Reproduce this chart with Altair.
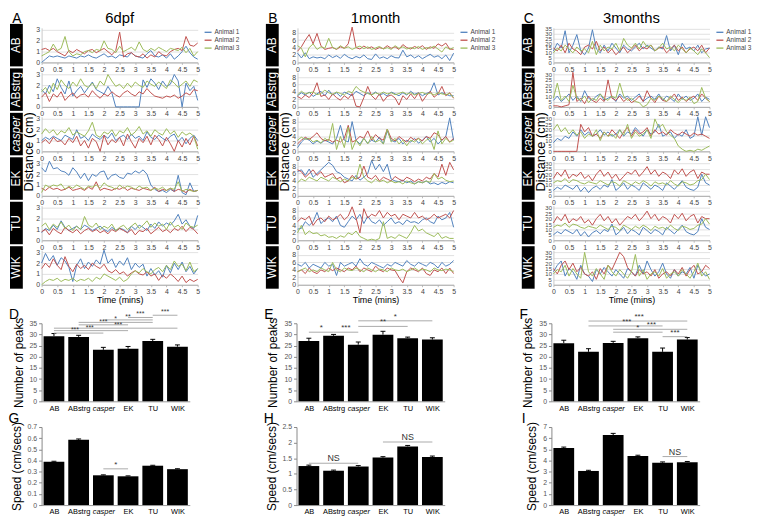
import json
import altair as alt
import pandas as pd

FONT = "Liberation Sans"
ANIMALS = ["Animal 1", "Animal 2", "Animal 3"]
ANIMAL_COLORS = ["#4F81BD", "#C0504D", "#9BBB59"]
STRAINS = ["AB", "ABstrg", "casper", "EK", "TU", "WIK"]
TIME = [i * 0.125 for i in range(41)]          # minutes, 7.5 s sampling
X_TICKS = [0, 0.5, 1, 1.5, 2, 2.5, 3, 3.5, 4, 4.5, 5]

# ---------------- 6dpf distance traces (cm) ----------------
D6_AB = [
    [0.0, 0.3, 0.6, 0.5, 0.6, 0.5, 0.4, 0.6, 0.5, 0.4, 0.6, 0.5, 0.7, 0.5, 0.4, 0.6, 0.8, 0.5, 0.6, 0.4, 0.7, 0.6, 0.5, 0.9, 0.6, 0.5, 0.4, 0.8, 1.1, 0.6, 0.5, 0.7, 0.4, 0.8, 0.3, 0.6, 1.0, 1.5, 0.9, 0.5, 0.3],
    [1.2, 1.3, 1.1, 1.3, 1.0, 0.8, 0.6, 1.1, 0.9, 1.2, 1.0, 0.8, 1.1, 1.2, 0.9, 1.1, 1.3, 1.0, 0.7, 1.1, 2.8, 0.5, 0.8, 0.9, 0.6, 0.5, 0.8, 0.4, 0.7, 0.5, 1.0, 0.7, 0.6, 1.0, 1.2, 1.3, 1.1, 2.4, 1.6, 1.5, 1.8],
    [0.6, 0.8, 1.0, 1.7, 1.1, 1.3, 2.4, 1.0, 0.6, 0.8, 0.7, 1.0, 1.1, 0.9, 1.2, 1.1, 2.0, 1.3, 1.2, 0.9, 1.5, 1.0, 1.2, 1.4, 1.1, 1.9, 1.2, 1.0, 1.3, 1.1, 1.4, 1.2, 1.0, 1.3, 1.2, 1.1, 1.4, 0.9, 1.3, 0.6, 1.0],
]
D6_ABSTRG = [
    [1.6, 1.2, 2.0, 1.4, 2.6, 1.8, 1.2, 2.4, 1.0, 1.5, 1.9, 1.3, 1.8, 2.3, 1.6, 1.4, 1.2, 1.9, 1.3, 0.0, 0.0, 0.0, 0.0, 0.0, 0.0, 0.0, 2.5, 1.8, 2.6, 2.2, 1.6, 2.4, 1.9, 2.1, 3.0, 2.4, 0.0, 2.2, 1.5, 1.9, 0.6],
    [0.9, 1.3, 0.5, 1.2, 0.9, 1.4, 0.6, 1.0, 1.3, 0.8, 1.1, 1.2, 0.9, 1.5, 1.1, 0.8, 1.2, 1.0, 1.4, 1.1, 0.9, 1.3, 1.5, 1.2, 1.0, 1.4, 1.2, 1.7, 1.3, 1.0, 0.9, 0.8, 1.0, 0.9, 1.1, 0.8, 1.0, 1.3, 1.1, 1.6, 1.5],
    [1.4, 1.8, 1.2, 2.2, 1.6, 2.5, 2.0, 1.7, 2.3, 1.9, 2.6, 2.0, 1.8, 2.2, 1.7, 2.4, 2.0, 3.0, 2.4, 1.9, 2.1, 1.7, 2.2, 1.8, 2.3, 2.0, 1.8, 2.4, 2.1, 1.9, 2.3, 2.0, 1.7, 2.5, 2.2, 1.8, 2.1, 2.4, 1.9, 2.5, 2.3],
]
D6_CASPER = [
    [1.0, 1.3, 1.1, 1.4, 1.2, 1.0, 1.5, 1.3, 1.1, 2.0, 1.2, 1.4, 1.0, 1.6, 1.3, 1.1, 1.5, 1.2, 1.7, 1.0, 1.3, 1.5, 1.1, 1.6, 1.2, 1.4, 1.0, 1.8, 1.3, 1.1, 1.5, 1.2, 1.0, 1.4, 1.6, 0.9, 1.3, 0.7, 1.2, 1.5, 1.0],
    [0.8, 1.1, 0.7, 1.3, 0.9, 1.0, 0.6, 1.2, 0.8, 1.4, 0.5, 1.0, 0.3, 1.2, 0.9, 0.0, 1.5, 0.6, 1.1, 0.8, 1.3, 0.5, 1.6, 0.9, 0.3, 1.2, 0.8, 1.4, 0.6, 1.5, 1.1, 0.5, 1.3, 0.7, 0.0, 1.0, 0.4, 1.2, 0.6, 1.4, 0.5],
    [1.6, 2.1, 1.7, 2.0, 1.5, 1.9, 1.7, 2.2, 1.5, 1.8, 1.6, 1.4, 1.9, 2.7, 1.5, 1.3, 1.8, 1.6, 2.0, 1.4, 1.9, 1.7, 2.2, 1.5, 1.8, 2.3, 1.6, 1.9, 1.4, 2.0, 1.7, 1.5, 2.1, 1.6, 1.9, 1.3, 1.8, 1.5, 1.7, 1.4, 0.2],
]
D6_EK = [
    [2.6, 2.2, 3.2, 2.5, 2.6, 2.3, 2.2, 1.9, 2.6, 2.2, 1.6, 2.1, 1.4, 2.0, 1.8, 2.2, 2.3, 1.5, 1.9, 2.0, 1.7, 1.6, 2.1, 2.0, 2.3, 2.1, 2.4, 2.0, 1.0, 0.6, 0.4, 0.5, 0.3, 0.6, 0.4, 1.9, 0.3, 0.1, 1.2, 0.4, 0.5],
    [0.7, 0.5, 0.8, 0.6, 0.7, 0.5, 0.6, 0.8, 0.5, 0.6, 0.7, 0.5, 0.8, 0.6, 1.3, 0.5, 0.7, 0.6, 0.5, 0.7, 0.6, 0.8, 0.5, 0.7, 0.6, 0.5, 0.7, 0.6, 0.5, 0.8, 0.4, 0.6, 0.5, 0.7, 0.4, 0.6, 0.5, 0.3, 0.6, 0.4, 0.5],
    [0.3, 1.0, 0.8, 1.0, 0.9, 1.1, 0.6, 0.9, 0.7, 1.0, 0.8, 0.6, 0.9, 0.8, 1.0, 0.7, 1.2, 0.9, 0.8, 0.6, 1.0, 0.7, 0.9, 0.8, 0.6, 0.9, 0.7, 0.8, 0.5, 0.7, 0.6, 0.8, 0.5, 0.7, 0.6, 1.3, 0.4, 0.6, 0.5, 0.4, 0.5],
]
D6_TU = [
    [0.7, 1.1, 0.9, 1.4, 1.0, 1.8, 1.2, 0.9, 1.1, 1.3, 1.0, 1.4, 1.2, 0.9, 1.1, 1.3, 1.0, 0.8, 1.2, 0.9, 1.1, 1.0, 0.7, 1.3, 1.0, 1.4, 1.2, 0.9, 1.5, 1.1, 1.7, 1.3, 1.6, 1.4, 1.8, 2.4, 1.5, 1.9, 1.3, 1.1, 2.3],
    [0.8, 1.0, 0.5, 1.1, 0.8, 0.6, 1.2, 0.9, 0.7, 1.0, 0.6, 0.9, 1.1, 0.8, 1.0, 0.7, 0.9, 0.6, 1.0, 0.8, 1.1, 0.9, 0.7, 1.0, 0.5, 0.9, 0.8, 1.1, 0.6, 0.9, 1.2, 0.8, 1.0, 0.7, 1.1, 0.9, 1.3, 0.8, 1.2, 1.0, 0.6],
    [1.3, 1.6, 1.0, 1.5, 1.2, 1.7, 1.1, 1.4, 0.9, 1.3, 1.0, 2.2, 1.4, 1.2, 1.6, 1.0, 1.3, 1.1, 1.5, 0.9, 1.2, 1.4, 1.0, 1.3, 1.6, 1.1, 1.4, 1.8, 1.2, 1.6, 1.3, 1.5, 1.0, 1.7, 1.2, 1.4, 1.0, 1.6, 1.3, 1.2, 1.4],
]
D6_WIK = [
    [2.0, 2.9, 2.2, 2.7, 1.8, 2.5, 2.2, 1.6, 0.3, 1.8, 2.4, 1.5, 2.1, 1.7, 2.3, 1.9, 3.2, 2.0, 2.4, 1.6, 2.2, 1.8, 2.5, 1.4, 2.0, 1.6, 1.9, 0.8, 1.5, 0.9, 1.3, 0.7, 1.8, 1.1, 2.0, 1.4, 2.1, 1.2, 1.7, 1.0, 1.5],
    [1.5, 2.0, 1.6, 2.4, 1.8, 1.4, 2.6, 1.7, 1.2, 1.9, 1.5, 1.8, 1.4, 2.0, 1.7, 1.5, 1.9, 1.3, 1.1, 1.4, 1.0, 1.2, 0.8, 1.1, 1.3, 1.0, 0.9, 1.2, 0.8, 1.0, 0.4, 0.9, 0.6, 1.0, 0.7, 0.3, 0.8, 0.2, 0.5, 0.3, 0.5],
    [0.0, 0.3, 0.5, 0.4, 0.6, 0.3, 0.5, 0.4, 0.6, 0.3, 0.5, 0.4, 0.6, 0.3, 0.7, 0.5, 1.0, 0.8, 0.6, 0.4, 0.7, 0.3, 0.5, 1.0, 1.3, 1.1, 1.5, 1.2, 1.0, 1.4, 1.6, 1.2, 1.8, 1.4, 2.2, 1.7, 1.9, 1.3, 2.1, 1.2, 1.5],
]

# ---------------- 1month distance traces (cm) ----------------
M1_AB = [
    [2.5, 1.2, 2.6, 1.0, 1.5, 1.2, 1.4, 1.0, 2.0, 1.3, 1.8, 1.1, 2.2, 1.4, 1.0, 1.6, 1.2, 2.0, 1.0, 0.8, 2.3, 1.1, 1.5, 1.0, 1.8, 1.3, 1.2, 3.3, 1.5, 2.0, 1.2, 1.8, 1.0, 1.6, 2.2, 1.4, 1.8, 1.0, 2.0, 0.5, 2.5],
    [3.0, 4.2, 6.0, 7.5, 5.0, 7.8, 4.5, 3.5, 3.8, 4.0, 3.5, 4.2, 3.8, 5.0, 9.5, 4.0, 3.6, 4.4, 3.8, 4.2, 3.5, 4.0, 3.7, 4.5, 3.8, 4.2, 3.5, 4.8, 4.0, 3.6, 4.3, 3.8, 4.5, 3.5, 4.2, 3.8, 5.0, 4.4, 5.2, 3.6, 3.5],
    [4.5, 3.8, 1.5, 4.0, 5.0, 3.5, 4.2, 3.8, 6.5, 4.0, 3.6, 4.5, 3.8, 4.2, 3.5, 4.0, 4.4, 3.7, 4.2, 3.5, 3.9, 4.3, 3.6, 4.0, 3.5, 4.5, 3.8, 4.2, 3.6, 4.0, 3.7, 4.3, 3.5, 4.0, 3.8, 4.4, 3.6, 2.8, 4.2, 3.5, 4.0],
]
M1_ABSTRG = [
    [3.0, 3.8, 3.2, 4.0, 2.8, 3.5, 4.2, 3.0, 4.5, 3.2, 3.8, 2.8, 4.0, 3.5, 3.0, 4.2, 3.6, 3.0, 3.8, 3.3, 4.0, 3.2, 3.6, 2.9, 4.0, 3.5, 3.0, 3.8, 3.2, 4.2, 3.4, 3.8, 3.0, 3.6, 4.0, 6.5, 3.2, 3.8, 3.4, 3.0, 3.0],
    [2.8, 2.2, 3.2, 2.5, 3.8, 6.5, 2.8, 3.2, 2.0, 3.5, 2.5, 1.8, 3.0, 2.2, 3.6, 0.2, 0.0, 2.5, 5.5, 3.0, 2.0, 3.5, 1.5, 2.8, 3.2, 2.4, 0.5, 3.0, 2.0, 3.5, 2.2, 3.8, 1.5, 3.0, 4.2, 2.6, 3.5, 5.5, 3.0, 3.8, 2.3],
    [3.2, 4.2, 3.5, 3.8, 4.0, 3.3, 3.6, 4.5, 3.8, 3.4, 4.0, 3.6, 3.2, 4.2, 3.8, 5.5, 4.5, 4.0, 3.6, 3.2, 3.8, 3.4, 4.0, 3.5, 3.8, 3.3, 3.6, 4.0, 3.4, 3.8, 3.2, 3.6, 3.9, 3.4, 3.7, 3.2, 3.8, 3.5, 3.3, 3.6, 2.5],
]
M1_CASPER = [
    [1.0, 2.5, 3.5, 3.0, 2.0, 2.8, 2.2, 3.0, 2.5, 2.0, 3.5, 7.0, 3.0, 2.5, 8.0, 3.0, 2.0, 3.5, 2.2, 3.0, 2.5, 3.8, 2.0, 5.5, 3.0, 2.5, 3.5, 2.0, 3.0, 2.5, 3.5, 2.2, 3.0, 4.0, 2.5, 3.5, 2.0, 3.0, 4.0, 9.0, 3.0],
    [2.0, 3.0, 3.8, 3.2, 4.0, 5.0, 3.5, 2.8, 3.2, 2.5, 3.0, 2.5, 3.5, 7.0, 2.5, 3.0, 4.0, 3.5, 5.5, 3.0, 4.5, 3.5, 3.0, 6.0, 3.5, 2.8, 4.0, 3.2, 2.5, 3.8, 3.0, 3.5, 2.8, 4.0, 3.5, 5.0, 4.5, 3.0, 4.0, 2.5, 3.5],
    [3.0, 3.8, 3.2, 3.5, 2.5, 3.0, 2.2, 3.5, 2.8, 7.5, 0.5, 4.0, 1.0, 6.5, 0.5, 3.0, 1.5, 3.5, 2.0, 4.0, 2.5, 3.0, 2.0, 6.0, 2.5, 3.5, 2.0, 3.0, 1.5, 3.0, 2.5, 3.5, 2.0, 3.0, 3.5, 0.5, 5.5, 2.0, 3.5, 2.5, 3.0],
]
M1_EK = [
    [6.5, 7.0, 5.5, 7.2, 5.0, 6.0, 7.0, 8.0, 9.0, 8.2, 6.5, 6.0, 5.0, 4.5, 4.0, 5.5, 4.2, 5.0, 6.0, 9.5, 7.0, 8.5, 6.5, 8.5, 4.5, 4.0, 3.8, 4.2, 3.5, 4.0, 3.2, 3.8, 3.5, 4.0, 3.2, 3.5, 3.0, 3.6, 3.2, 3.8, 3.5],
    [7.0, 6.5, 5.0, 6.0, 7.0, 5.5, 6.5, 5.0, 5.5, 6.0, 4.5, 5.0, 3.5, 4.0, 5.5, 4.5, 5.0, 8.0, 5.0, 4.5, 5.5, 4.0, 5.0, 4.5, 4.0, 5.2, 4.5, 4.0, 5.0, 4.5, 3.8, 4.5, 4.0, 5.0, 4.5, 6.0, 5.0, 8.5, 5.5, 9.0, 7.0],
    [3.5, 4.5, 4.0, 5.0, 4.5, 4.0, 5.0, 4.5, 4.0, 5.0, 4.5, 3.8, 4.5, 4.0, 5.0, 4.5, 8.5, 5.0, 4.0, 3.5, 4.5, 3.8, 4.2, 3.5, 4.0, 3.5, 3.8, 3.2, 4.0, 3.5, 3.2, 3.8, 3.5, 4.0, 3.6, 6.0, 4.5, 5.0, 4.2, 3.8, 4.0],
]
M1_TU = [
    [3.0, 3.2, 5.0, 4.0, 5.0, 7.5, 4.5, 5.5, 6.0, 5.0, 6.5, 4.0, 3.5, 5.0, 6.5, 5.5, 7.0, 4.5, 6.5, 5.0, 4.5, 5.5, 4.0, 5.0, 6.0, 4.5, 5.0, 4.2, 5.5, 4.8, 5.0, 4.5, 5.5, 6.0, 5.0, 4.5, 6.5, 5.5, 6.0, 7.5, 3.5],
    [5.0, 6.0, 5.5, 6.5, 4.0, 5.5, 6.0, 5.0, 6.5, 5.5, 6.0, 7.0, 5.5, 6.5, 9.0, 6.0, 2.0, 8.5, 6.0, 7.0, 6.5, 8.0, 6.0, 7.5, 6.5, 7.0, 5.5, 7.0, 6.5, 6.0, 7.5, 6.0, 6.5, 5.5, 6.0, 7.0, 6.0, 6.5, 7.0, 6.0, 8.0],
    [2.0, 4.0, 1.5, 2.5, 1.8, 2.0, 1.2, 1.5, 0.8, 1.0, 0.5, 1.2, 0.8, 2.0, 1.5, 2.5, 1.0, 0.5, 0.0, 0.3, 0.0, 0.5, 5.0, 0.5, 1.0, 0.5, 1.5, 1.0, 0.5, 2.0, 4.0, 2.5, 3.0, 2.0, 1.5, 1.0, 2.0, 0.5, 1.0, 0.5, 0.5],
]
M1_WIK = [
    [5.5, 5.0, 6.0, 4.5, 5.5, 5.0, 4.5, 6.0, 5.0, 5.5, 2.5, 6.0, 5.0, 5.5, 6.0, 5.0, 7.0, 5.5, 5.0, 6.0, 5.5, 5.0, 4.5, 5.5, 5.0, 6.0, 5.5, 5.0, 6.5, 5.5, 5.0, 6.0, 5.5, 5.0, 6.0, 5.5, 4.5, 6.0, 5.0, 5.5, 6.5],
    [3.5, 4.0, 3.0, 4.5, 3.5, 3.0, 4.0, 3.5, 4.5, 3.8, 4.5, 4.0, 3.5, 4.5, 4.0, 5.0, 3.5, 4.5, 4.0, 3.5, 5.0, 4.0, 3.5, 4.5, 4.0, 3.8, 2.0, 0.5, 3.5, 4.5, 4.0, 3.5, 4.5, 3.0, 2.5, 4.0, 3.5, 4.5, 3.0, 4.5, 3.0],
    [3.5, 4.0, 4.5, 3.5, 4.0, 3.5, 4.5, 4.0, 3.5, 6.0, 4.0, 3.5, 4.5, 4.0, 3.8, 4.5, 4.0, 3.5, 4.5, 4.0, 3.5, 4.2, 4.0, 3.5, 4.5, 4.0, 3.8, 4.2, 3.5, 4.0, 4.5, 3.8, 4.2, 4.0, 3.5, 4.5, 4.0, 3.8, 4.2, 4.0, 3.5],
]

# ---------------- 3months distance traces (cm) ----------------
M3_AB = [
    [12, 20, 15, 33, 10, 18, 29, 12, 8, 15, 34, 14, 10, 18, 12, 20, 15, 10, 18, 14, 12, 16, 20, 14, 18, 15, 12, 16, 14, 28, 12, 18, 8, 20, 14, 16, 12, 18, 10, 14, 15],
    [15, 12, 18, 10, 20, 14, 12, 8, 16, 18, 14, 22, 12, 16, 10, 14, 8, 12, 16, 10, 14, 18, 12, 16, 14, 18, 12, 15, 16, 10, 14, 18, 12, 16, 10, 14, 16, 12, 18, 10, 15],
    [10, 15, 12, 18, 14, 10, 16, 12, 14, 10, 22, 8, 18, 12, 16, 14, 20, 12, 25, 18, 15, 20, 14, 22, 16, 18, 12, 15, 20, 14, 16, 12, 18, 14, 10, 15, 12, 8, 14, 10, 5],
]
M3_ABSTRG = [
    [6, 10, 5, 8, 12, 6, 10, 5, 15, 8, 6, 10, 12, 6, 8, 10, 5, 12, 8, 10, 6, 9, 12, 5, 8, 10, 7, 12, 6, 10, 8, 5, 12, 7, 10, 6, 8, 12, 5, 9, 7],
    [1, 1, 0, 1, 2, 32, 5, 8, 3, 10, 6, 4, 8, 5, 25, 8, 6, 10, 5, 8, 4, 6, 10, 5, 15, 8, 4, 10, 6, 5, 8, 12, 6, 9, 5, 8, 10, 6, 12, 8, 5],
    [8, 22, 6, 10, 5, 20, 8, 6, 10, 4, 8, 6, 12, 8, 6, 10, 8, 22, 10, 6, 8, 5, 4, 0, 2, 8, 6, 10, 8, 5, 10, 7, 4, 8, 6, 9, 3, 5, 18, 8, 5],
]
M3_CASPER = [
    [8, 12, 10, 14, 12, 18, 14, 20, 15, 18, 14, 16, 20, 15, 18, 14, 16, 20, 14, 18, 16, 22, 18, 14, 20, 16, 18, 25, 14, 16, 18, 12, 16, 14, 20, 12, 14, 32, 15, 32, 22],
    [0, 0, 0, 0, 0, 0, 0, 25, 18, 22, 14, 16, 12, 18, 14, 20, 16, 12, 18, 22, 14, 20, 16, 18, 22, 14, 20, 16, 18, 15, 20, 17, 15, 18, 16, 14, 17, 15, 16, 14, 12],
    [20, 25, 18, 22, 16, 20, 15, 18, 12, 16, 14, 20, 10, 18, 14, 16, 12, 20, 15, 25, 12, 18, 14, 16, 20, 12, 30, 22, 25, 18, 15, 12, 5, 2, 0, 1, 0, 2, 1, 3, 5],
]
M3_EK = [
    [5, 8, 6, 10, 8, 6, 10, 4, 8, 3, 7, 9, 6, 10, 8, 15, 5, 8, 12, 6, 10, 8, 5, 12, 9, 6, 10, 8, 5, 12, 9, 6, 10, 14, 8, 6, 5, 8, 20, 12, 10],
    [16, 22, 18, 24, 16, 20, 18, 22, 16, 19, 14, 20, 24, 18, 22, 16, 20, 14, 18, 22, 20, 24, 18, 22, 27, 20, 24, 18, 22, 20, 16, 24, 20, 25, 18, 22, 24, 16, 22, 20, 20],
    [12, 14, 13, 16, 12, 15, 14, 12, 11, 13, 12, 11, 14, 12, 10, 13, 12, 9, 14, 12, 10, 13, 11, 14, 12, 9, 13, 11, 12, 10, 14, 11, 9, 13, 12, 10, 11, 14, 15, 20, 15],
]
# the published TU traces at 3 months repeat the EK traces
M3_TU = [
    [5, 8, 6, 10, 8, 6, 10, 4, 8, 3, 7, 9, 6, 10, 8, 15, 5, 8, 12, 6, 10, 8, 5, 12, 9, 6, 10, 8, 5, 12, 9, 6, 10, 14, 8, 6, 5, 8, 20, 12, 10],
    [16, 22, 18, 24, 16, 20, 18, 22, 16, 19, 14, 20, 24, 18, 22, 16, 20, 14, 18, 22, 20, 24, 18, 22, 27, 20, 24, 18, 22, 20, 16, 24, 20, 25, 18, 22, 24, 16, 22, 20, 20],
    [12, 14, 13, 16, 12, 15, 14, 12, 11, 13, 12, 11, 14, 12, 10, 13, 12, 9, 14, 12, 10, 13, 11, 14, 12, 9, 13, 11, 12, 10, 14, 11, 9, 13, 12, 10, 11, 14, 15, 20, 15],
]
M3_WIK = [
    [12, 18, 22, 8, 15, 12, 5, 18, 10, 8, 3, 14, 10, 16, 12, 8, 14, 10, 6, 15, 12, 8, 18, 10, 22, 14, 8, 12, 20, 10, 6, 14, 8, 12, 10, 16, 6, 18, 12, 8, 10],
    [15, 10, 18, 22, 14, 20, 12, 16, 10, 8, 12, 5, 15, 10, 18, 14, 22, 30, 26, 16, 12, 8, 14, 10, 12, 8, 14, 6, 10, 12, 8, 14, 10, 16, 8, 14, 18, 10, 12, 18, 15],
    [10, 14, 12, 18, 8, 15, 10, 6, 30, 12, 8, 15, 10, 5, 18, 12, 8, 14, 10, 6, 12, 28, 8, 14, 5, 10, 12, 8, 15, 6, 10, 12, 8, 14, 10, 6, 12, 20, 8, 12, 5],
]

# ---------------- bar panels ----------------
PEAKS_6DPF = [29.2, 28.9, 23.1, 23.6, 27.0, 24.5]
PEAKS_6DPF_ERR = [1.2, 0.7, 1.1, 1.0, 0.8, 0.8]
PEAKS_1M = [27.0, 29.4, 25.4, 29.9, 28.3, 27.7]
PEAKS_1M_ERR = [1.3, 0.6, 1.2, 1.5, 0.5, 0.8]
PEAKS_3M = [26.1, 22.2, 26.2, 28.3, 22.2, 27.7]
PEAKS_3M_ERR = [1.3, 1.4, 0.7, 0.6, 1.7, 0.9]
SPEED_6DPF = [0.388, 0.585, 0.267, 0.258, 0.353, 0.322]
SPEED_6DPF_ERR = [0.005, 0.008, 0.004, 0.004, 0.004, 0.004]
SPEED_1M = [1.25, 1.10, 1.235, 1.52, 1.88, 1.54]
SPEED_1M_ERR = [0.03, 0.02, 0.03, 0.03, 0.03, 0.03]
SPEED_3M = [5.12, 3.06, 6.28, 4.40, 3.80, 3.85]
SPEED_3M_ERR = [0.08, 0.06, 0.15, 0.07, 0.07, 0.06]

# significance brackets: from strain index, to strain index, level, label, label position
ANN_D = dict(a=[0, 0, 0, 1, 1, 2, 3, 4], b=[2, 3, 5, 3, 4, 4, 4, 5],
             y=[30.6, 31.7, 32.8, 34.3, 35.4, 36.5, 37.6, 38.6],
             lab=["***", "***", "***", "***", "*", "**", "***", "***"],
             tx=[1.35, 1.95, 3.1, 2.5, 3.0, 3.5, 4.0, 5.0])
ANN_E = dict(a=[0, 1, 2, 2], b=[1, 2, 4, 5], y=[31.0, 31.0, 33.6, 36.1],
             lab=["*", "***", "**", "*"], tx=[1.0, 2.0, 3.5, 4.0])
ANN_F = dict(a=[1, 1, 2, 2, 4], b=[5, 4, 5, 4, 5], y=[36.0, 33.8, 32.3, 31.0, 29.0],
             lab=["***", "***", "***", "*", "***"], tx=[3.55, 3.05, 4.05, 3.5, 5.0])
ANN_G = dict(a=[2], b=[3], y=[0.325], lab=["*"], tx=[3.0])
ANN_H = dict(a=[0, 3], b=[2, 5], y=[1.34, 2.02], lab=["NS", "NS"], tx=[1.5, 4.5])
ANN_I = dict(a=[4], b=[5], y=[4.35], lab=["NS"], tx=[5.0])

W, H = 158, 35
BW, BH = 150, 79


def line_row(strain_idx, series, ymax, yticks, ylab_size, letter=None, title=None, last=False):
    strain = STRAINS[strain_idx]
    recs = []
    for a, vals in zip(ANIMALS, series):
        for t, v in zip(TIME, vals):
            recs.append({"t": t, "v": v, "animal": a})
    df = pd.DataFrame(recs)

    yax = dict(values=yticks, format="~g", grid=True, gridColor="#d9d9d9", gridWidth=0.8,
               labelFontSize=ylab_size, labelColor="#444", labelPadding=2, tickSize=0,
               domainColor="#c8c8c8", labelOverlap=False, title=None)
    if strain == "casper":
        yax.update(title="Distance (cm)", titleX=-13, titleY=H, titleAngle=270,
                   titleAlign="center", titleBaseline="middle", titleFontSize=13,
                   titleFontWeight="normal", titleColor="#000")
    xax = dict(values=X_TICKS, format="~g", grid=False, labelFontSize=7, labelColor="#444",
               labelPadding=1, tickSize=2, tickColor="#bbb", domainColor="#aaa",
               labelFlush=False, labelOverlap=False, title=None)
    if last:
        xax.update(title="Time (mins)", titleFontSize=9, titlePadding=1,
                   titleFontWeight="normal", titleColor="#000")
    legend = None
    if title is not None:
        legend = alt.Legend(title=None, orient="right", offset=4, labelFontSize=6.5,
                            symbolType="stroke", symbolSize=50, symbolStrokeWidth=1.3,
                            rowPadding=-1, padding=0, labelOffset=2, labelColor="#444")

    lines = alt.Chart(df).mark_line(strokeWidth=1).encode(
        x=alt.X("t:Q", scale=alt.Scale(domain=[0, 5], nice=False), axis=alt.Axis(**xax)),
        y=alt.Y("v:Q", scale=alt.Scale(domain=[0, ymax], nice=False), axis=alt.Axis(**yax)),
        color=alt.Color("animal:N", scale=alt.Scale(domain=ANIMALS, range=ANIMAL_COLORS), legend=legend),
    )
    sdf = pd.DataFrame({"s": [strain]})
    strip = alt.Chart(sdf).mark_rect(color="black").encode(
        x=alt.value(-32), x2=alt.value(-19), y=alt.value(-4), y2=alt.value(H + 4))
    stext = alt.Chart(sdf).mark_text(
        angle=270, color="white", fontSize=12, font=FONT,
        fontStyle="italic" if strain == "casper" else "normal",
        align="center", baseline="middle").encode(
        x=alt.value(-25.5), y=alt.value(H / 2), text="s:N")
    layers = [strip, stext, lines]
    if letter is not None:
        layers.append(alt.Chart(pd.DataFrame({"l": [letter]})).mark_text(
            fontSize=14, font=FONT, align="center", baseline="alphabetic", color="#000").encode(
            x=alt.value(-25), y=alt.value(-5), text="l:N"))
    if title is not None:
        layers.append(alt.Chart(pd.DataFrame({"l": [title]})).mark_text(
            fontSize=15, font=FONT, align="center", baseline="alphabetic", color="#000").encode(
            x=alt.value(W / 2), y=alt.value(-5), text="l:N"))
    return alt.layer(*layers).properties(width=W, height=H)


def line_column(letter, title, data_rows, ymaxes, ytick_sets, ylab_size):
    rows = []
    for i, series in enumerate(data_rows):
        rows.append(line_row(i, series, ymaxes[i], ytick_sets[i], ylab_size,
                             letter=letter if i == 0 else None,
                             title=title if i == 0 else None,
                             last=(i == len(data_rows) - 1)))
    return alt.vconcat(*rows, spacing=10, bounds="flush").resolve_scale(
        color="independent").resolve_legend(color="independent")


LABEL_EXPR = json.dumps(STRAINS) + "[round(datum.value - 0.5)]"


def bar_panel(letter, vals, errs, ymax, yticks, ytitle, ann, ann_size):
    df = pd.DataFrame({"strain": STRAINS, "v": vals, "e": errs})
    df["pos"] = [i + 0.5 for i in range(len(STRAINS))]
    df["lo"] = df["pos"] - 0.42
    df["hi"] = df["pos"] + 0.42
    df["top"] = df["v"] + df["e"]
    df["cl"] = df["pos"] - 0.1
    df["cr"] = df["pos"] + 0.1
    xsc = alt.Scale(domain=[0, 6], nice=False, zero=False)
    ysc = alt.Scale(domain=[0, ymax], nice=False)
    xaxis = alt.Axis(values=[float(p) for p in df["pos"]], labelExpr=LABEL_EXPR, labelFontSize=7.5,
                     labelColor="#000", tickSize=0, domainColor="#999", grid=False, title=None,
                     labelPadding=3, labelOverlap=False, labelFlush=False,
                     labelFontStyle={"condition": {"test": "datum.value == 2.5", "value": "italic"},
                                     "value": "normal"})
    yaxis = alt.Axis(values=yticks, format="~g", labelFontSize=7, labelColor="#555", tickSize=3,
                     tickColor="#888", domainColor="#888", grid=False, title=ytitle,
                     titleFontSize=12, titleFontWeight="normal", titleColor="#000",
                     titlePadding=4, labelPadding=2, labelOverlap=False)
    base = alt.Chart(df)
    bars = base.mark_bar(color="black").encode(
        x=alt.X("lo:Q", scale=xsc, axis=xaxis), x2="hi:Q",
        y=alt.Y("v:Q", scale=ysc, axis=yaxis), y2=alt.datum(0))
    whisk = base.mark_rule(color="black", strokeWidth=1).encode(
        x=alt.X("pos:Q", scale=xsc, axis=xaxis), y=alt.Y("v:Q", scale=ysc, axis=yaxis), y2="top:Q")
    cap = base.mark_rule(color="black", strokeWidth=1).encode(
        x=alt.X("cl:Q", scale=xsc, axis=xaxis), x2="cr:Q", y=alt.Y("top:Q", scale=ysc, axis=yaxis))
    adf = pd.DataFrame({"x1": [a + 0.5 for a in ann["a"]], "x2": [b + 0.5 for b in ann["b"]],
                        "y": ann["y"], "lab": ann["lab"], "tx": ann["tx"]})
    arule = alt.Chart(adf).mark_rule(color="#aaa", strokeWidth=1).encode(
        x=alt.X("x1:Q", scale=xsc, axis=xaxis), x2="x2:Q", y=alt.Y("y:Q", scale=ysc, axis=yaxis))
    atext = alt.Chart(adf).mark_text(fontSize=ann_size, font=FONT, color="#333",
                                     baseline="bottom").encode(
        x=alt.X("tx:Q", scale=xsc, axis=xaxis), y=alt.Y("y:Q", scale=ysc, axis=yaxis), text="lab:N")
    let = alt.Chart(pd.DataFrame({"l": [letter]})).mark_text(
        fontSize=14, font=FONT, align="center", baseline="alphabetic", color="#000").encode(
        x=alt.value(-28), y=alt.value(-4), text="l:N")
    return alt.layer(bars, whisk, cap, arule, atext, let).properties(width=BW, height=BH)


A_ROWS = [D6_AB, D6_ABSTRG, D6_CASPER, D6_EK, D6_TU, D6_WIK]
B_ROWS = [M1_AB, M1_ABSTRG, M1_CASPER, M1_EK, M1_TU, M1_WIK]
C_ROWS = [M3_AB, M3_ABSTRG, M3_CASPER, M3_EK, M3_TU, M3_WIK]

colA = line_column("A", "6dpf", A_ROWS, [3.2] * 6, [[0, 1, 2, 3]] * 6, 7)
colB = line_column("B", "1month", B_ROWS, [9.3] * 6, [[0, 2, 4, 6, 8]] * 6, 7)
colC = line_column("C", "3months", C_ROWS, [36] + [32] * 5,
                   [[0, 5, 10, 15, 20, 25, 30, 35]] + [[0, 5, 10, 15, 20, 25, 30]] * 5, 6)

top = alt.hconcat(colA, colB, colC, spacing=26).resolve_scale(
    color="independent").resolve_legend(color="independent")

peak_ticks = [0, 5, 10, 15, 20, 25, 30, 35]
panels = [
    bar_panel("D", PEAKS_6DPF, PEAKS_6DPF_ERR, 35, peak_ticks, "Number of peaks", ANN_D, 7),
    bar_panel("E", PEAKS_1M, PEAKS_1M_ERR, 35, peak_ticks, "Number of peaks", ANN_E, 8),
    bar_panel("F", PEAKS_3M, PEAKS_3M_ERR, 35, peak_ticks, "Number of peaks", ANN_F, 8),
    bar_panel("G", SPEED_6DPF, SPEED_6DPF_ERR, 0.7, [0, 0.1, 0.2, 0.3, 0.4, 0.5, 0.6, 0.7],
              "Speed (cm/secs)", ANN_G, 8),
    bar_panel("H", SPEED_1M, SPEED_1M_ERR, 2.5, [0, 0.5, 1, 1.5, 2, 2.5], "Speed (cm/secs)", ANN_H, 9),
    bar_panel("I", SPEED_3M, SPEED_3M_ERR, 7, [0, 1, 2, 3, 4, 5, 6, 7], "Speed (cm/secs)", ANN_I, 9),
]
bottom = alt.concat(*panels, columns=3, spacing={"row": 26, "column": 108}, bounds="flush")

chart = alt.vconcat(top, bottom, spacing=3).resolve_scale(
    color="independent").resolve_legend(color="independent").properties(
    padding={"left": 0, "top": 0, "right": 0, "bottom": 0}, background="white"
).configure(font=FONT).configure_view(stroke=None).configure_axis(
    labelFont=FONT, titleFont=FONT).configure_legend(labelFont=FONT)

chart.save("out.html", embed_options={"renderer": "svg", "actions": False})
